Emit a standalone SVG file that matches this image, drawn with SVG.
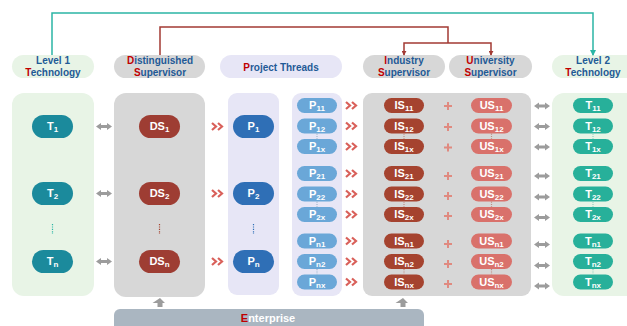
<svg xmlns="http://www.w3.org/2000/svg" width="627" height="326" viewBox="0 0 627 326">
<defs>
<style>
text{font-family:"Liberation Sans",Arial,sans-serif;font-weight:bold}
.hd{font-size:10px;fill:#1f5a96;text-anchor:middle}
.r{fill:#c00000}
.nt{font-size:11px;fill:#fff;text-anchor:middle}
.s{font-size:8px}
.t1{fill:#1b8a9c}.ds{fill:#9e3d33}.p{fill:#2f6fb6}.pp{fill:#6aa7d8}.is{fill:#a5432f}.us{fill:#d9716b}.t2{fill:#27b09a}
.pg{fill:#e8f4e6}.pgy{fill:#d7d7d7}.pl{fill:#e7e6f6}
.dot{stroke-dasharray:1.2 1.2;stroke-width:1.2;fill:none}
.chev{fill:none;stroke:#d9605a;stroke-width:2.2}
.plus{stroke:#e08a80;stroke-width:2;fill:none}
</style>
<marker id="at" viewBox="0 0 6 6" refX="3" refY="5" markerWidth="6" markerHeight="6" markerUnits="userSpaceOnUse"><path d="M0,0 L6,0 L3,6 Z" fill="#2bb5a5"/></marker>
<marker id="ar" viewBox="0 0 6 6" refX="3" refY="5" markerWidth="5" markerHeight="5" markerUnits="userSpaceOnUse"><path d="M0,0 L6,0 L3,6 Z" fill="#a33a33"/></marker>
<g id="dbl"><path d="M0,0 l5,-3.5 v2 h6 v-2 l5,3.5 l-5,3.5 v-2 h-6 v2 z" fill="#9c9c9c"/></g>
<g id="chv"><path class="chev" d="M0,-3.5 l4,3.5 l-4,3.5 M6,-3.5 l4,3.5 l-4,3.5"/></g>
<g id="pls"><path class="plus" d="M-4,0 h8 M0,-4 v8"/></g>
<g id="up"><path d="M0,-5 l5,5 h-2.5 v4 h-5 v-4 h-5 z" fill="#9c9c9c"/></g>
</defs>
<rect width="627" height="326" fill="#fff"/>

<!-- headers -->
<g id="h-l1"><rect x="12" y="55" width="82" height="23" rx="11.5" class="pg"/><text class="hd" x="53" y="64">Level 1</text><text class="hd" x="53" y="76"><tspan class="r">T</tspan>echnology</text></g>
<g id="h-ds"><rect x="114" y="55" width="91" height="23" rx="11.5" class="pgy"/><text class="hd" x="160" y="64"><tspan class="r">D</tspan>istinguished</text><text class="hd" x="160" y="76"><tspan class="r">S</tspan>upervisor</text></g>
<g id="h-pt"><rect x="220" y="55" width="122" height="23" rx="11.5" class="pl"/><text class="hd" x="281" y="70.5"><tspan class="r">P</tspan>roject Threads</text></g>
<g id="h-is"><rect x="363" y="55" width="82" height="23" rx="11.5" class="pgy"/><text class="hd" x="404" y="64"><tspan class="r">I</tspan>ndustry</text><text class="hd" x="404" y="76"><tspan class="r">S</tspan>upervisor</text></g>
<g id="h-us"><rect x="449" y="55" width="83" height="23" rx="11.5" class="pgy"/><text class="hd" x="490.5" y="64"><tspan class="r">U</tspan>niversity</text><text class="hd" x="490.5" y="76"><tspan class="r">S</tspan>upervisor</text></g>
<g id="h-l2"><rect x="552" y="55" width="90" height="23" rx="11.5" class="pg"/><text class="hd" x="593" y="64">Level 2</text><text class="hd" x="593" y="76"><tspan class="r">T</tspan>echnology</text></g>

<!-- connectors -->
<g id="connectors">
<path d="M52,55 V13 H593 V55" fill="none" stroke="#2bb5a5" stroke-width="1.5" marker-end="url(#at)"/>
<path d="M160,55 V27 H448 V43" fill="none" stroke="#a33a33" stroke-width="1.5"/>
<path d="M404,55 V43 H491 V55" fill="none" stroke="#a33a33" stroke-width="1.5" marker-start="url(#ar)" marker-end="url(#ar)"/>
</g>

<!-- panels -->
<rect x="12" y="93" width="82" height="203" rx="12" class="pg"/>
<rect x="114" y="93" width="91" height="204" rx="12" class="pgy"/>
<rect x="228" y="93" width="51" height="202" rx="9" class="pl"/>
<rect x="292" y="93" width="50" height="203" rx="9" class="pl"/>
<rect x="363" y="93" width="168" height="203" rx="9" class="pgy"/>
<rect x="552" y="93" width="90" height="203" rx="12" class="pg"/>
<g id="enterprise"><rect x="114" y="309" width="310" height="30" rx="6" fill="#aab6c1"/><text x="268" y="322" font-size="11" fill="#fff" text-anchor="middle"><tspan class="r">E</tspan>nterprise</text></g>
<use href="#up" x="160" y="303"/>
<use href="#up" x="403" y="303"/>

<!-- level 1 nodes -->
<g id="T1"><rect x="32" y="115" width="41" height="23" rx="11.5" class="t1"/><text class="nt" x="52.5" y="130">T<tspan class="s" dy="2">1</tspan></text></g>
<g id="T2"><rect x="32" y="182" width="41" height="23" rx="11.5" class="t1"/><text class="nt" x="52.5" y="197">T<tspan class="s" dy="2">2</tspan></text></g>
<g id="Tn"><rect x="32" y="250" width="41" height="23" rx="11.5" class="t1"/><text class="nt" x="52.5" y="265">T<tspan class="s" dy="2">n</tspan></text></g>
<g id="DS1"><rect x="139" y="115" width="41" height="23" rx="11.5" class="ds"/><text class="nt" x="159.5" y="130">DS<tspan class="s" dy="2">1</tspan></text></g>
<g id="DS2"><rect x="139" y="182" width="41" height="23" rx="11.5" class="ds"/><text class="nt" x="159.5" y="197">DS<tspan class="s" dy="2">2</tspan></text></g>
<g id="DSn"><rect x="139" y="250" width="41" height="23" rx="11.5" class="ds"/><text class="nt" x="159.5" y="265">DS<tspan class="s" dy="2">n</tspan></text></g>
<g id="P1"><rect x="233" y="115" width="41" height="23" rx="11.5" class="p"/><text class="nt" x="253.5" y="130">P<tspan class="s" dy="2">1</tspan></text></g>
<g id="P2"><rect x="233" y="182" width="41" height="23" rx="11.5" class="p"/><text class="nt" x="253.5" y="197">P<tspan class="s" dy="2">2</tspan></text></g>
<g id="Pn"><rect x="233" y="250" width="41" height="23" rx="11.5" class="p"/><text class="nt" x="253.5" y="265">P<tspan class="s" dy="2">n</tspan></text></g>
<line class="dot" x1="52.5" y1="224" x2="52.5" y2="234" stroke="#2bb5a5"/>
<line class="dot" x1="159.5" y1="224" x2="159.5" y2="234" stroke="#a5432f"/>
<line class="dot" x1="253.5" y1="224" x2="253.5" y2="234" stroke="#2f6fb6"/>
<use href="#dbl" x="96" y="126.5"/><use href="#dbl" x="96" y="193.5"/><use href="#dbl" x="96" y="261.5"/>
<use href="#chv" x="212" y="126.5"/><use href="#chv" x="212" y="193.5"/><use href="#chv" x="212" y="261.5"/>

<!-- level 2 rows -->
<g id="P11"><rect x="297" y="98" width="40" height="15" rx="7.5" class="pp"/><text class="nt" x="317" y="109">P<tspan class="s" dy="2">11</tspan></text></g>
<g id="P12"><rect x="297" y="118.5" width="40" height="15" rx="7.5" class="pp"/><text class="nt" x="317" y="129.5">P<tspan class="s" dy="2">12</tspan></text></g>
<g id="P1x"><rect x="297" y="139" width="40" height="15" rx="7.5" class="pp"/><text class="nt" x="317" y="150">P<tspan class="s" dy="2">1x</tspan></text></g>
<g id="P21"><rect x="297" y="166" width="40" height="15" rx="7.5" class="pp"/><text class="nt" x="317" y="177">P<tspan class="s" dy="2">21</tspan></text></g>
<g id="P22"><rect x="297" y="186.5" width="40" height="15" rx="7.5" class="pp"/><text class="nt" x="317" y="197.5">P<tspan class="s" dy="2">22</tspan></text></g>
<g id="P2x"><rect x="297" y="207" width="40" height="15" rx="7.5" class="pp"/><text class="nt" x="317" y="218">P<tspan class="s" dy="2">2x</tspan></text></g>
<g id="Pn1"><rect x="297" y="233.5" width="40" height="15" rx="7.5" class="pp"/><text class="nt" x="317" y="244.5">P<tspan class="s" dy="2">n1</tspan></text></g>
<g id="Pn2"><rect x="297" y="254" width="40" height="15" rx="7.5" class="pp"/><text class="nt" x="317" y="265">P<tspan class="s" dy="2">n2</tspan></text></g>
<g id="Pnx"><rect x="297" y="274.5" width="40" height="15" rx="7.5" class="pp"/><text class="nt" x="317" y="285.5">P<tspan class="s" dy="2">nx</tspan></text></g>

<g id="IS11"><rect x="384" y="98" width="40" height="15" rx="7.5" class="is"/><text class="nt" x="404" y="109">IS<tspan class="s" dy="2">11</tspan></text></g>
<g id="IS12"><rect x="384" y="118.5" width="40" height="15" rx="7.5" class="is"/><text class="nt" x="404" y="129.5">IS<tspan class="s" dy="2">12</tspan></text></g>
<g id="IS1x"><rect x="384" y="139" width="40" height="15" rx="7.5" class="is"/><text class="nt" x="404" y="150">IS<tspan class="s" dy="2">1x</tspan></text></g>
<g id="IS21"><rect x="384" y="166" width="40" height="15" rx="7.5" class="is"/><text class="nt" x="404" y="177">IS<tspan class="s" dy="2">21</tspan></text></g>
<g id="IS22"><rect x="384" y="186.5" width="40" height="15" rx="7.5" class="is"/><text class="nt" x="404" y="197.5">IS<tspan class="s" dy="2">22</tspan></text></g>
<g id="IS2x"><rect x="384" y="207" width="40" height="15" rx="7.5" class="is"/><text class="nt" x="404" y="218">IS<tspan class="s" dy="2">2x</tspan></text></g>
<g id="ISn1"><rect x="384" y="233.5" width="40" height="15" rx="7.5" class="is"/><text class="nt" x="404" y="244.5">IS<tspan class="s" dy="2">n1</tspan></text></g>
<g id="ISn2"><rect x="384" y="254" width="40" height="15" rx="7.5" class="is"/><text class="nt" x="404" y="265">IS<tspan class="s" dy="2">n2</tspan></text></g>
<g id="ISnx"><rect x="384" y="274.5" width="40" height="15" rx="7.5" class="is"/><text class="nt" x="404" y="285.5">IS<tspan class="s" dy="2">nx</tspan></text></g>

<g id="US11"><rect x="471" y="98" width="41" height="15" rx="7.5" class="us"/><text class="nt" x="491.5" y="109">US<tspan class="s" dy="2">11</tspan></text></g>
<g id="US12"><rect x="471" y="118.5" width="41" height="15" rx="7.5" class="us"/><text class="nt" x="491.5" y="129.5">US<tspan class="s" dy="2">12</tspan></text></g>
<g id="US1x"><rect x="471" y="139" width="41" height="15" rx="7.5" class="us"/><text class="nt" x="491.5" y="150">US<tspan class="s" dy="2">1x</tspan></text></g>
<g id="US21"><rect x="471" y="166" width="41" height="15" rx="7.5" class="us"/><text class="nt" x="491.5" y="177">US<tspan class="s" dy="2">21</tspan></text></g>
<g id="US22"><rect x="471" y="186.5" width="41" height="15" rx="7.5" class="us"/><text class="nt" x="491.5" y="197.5">US<tspan class="s" dy="2">22</tspan></text></g>
<g id="US2x"><rect x="471" y="207" width="41" height="15" rx="7.5" class="us"/><text class="nt" x="491.5" y="218">US<tspan class="s" dy="2">2x</tspan></text></g>
<g id="USn1"><rect x="471" y="233.5" width="41" height="15" rx="7.5" class="us"/><text class="nt" x="491.5" y="244.5">US<tspan class="s" dy="2">n1</tspan></text></g>
<g id="USn2"><rect x="471" y="254" width="41" height="15" rx="7.5" class="us"/><text class="nt" x="491.5" y="265">US<tspan class="s" dy="2">n2</tspan></text></g>
<g id="USnx"><rect x="471" y="274.5" width="41" height="15" rx="7.5" class="us"/><text class="nt" x="491.5" y="285.5">US<tspan class="s" dy="2">nx</tspan></text></g>

<g id="T11"><rect x="573" y="98" width="40" height="15" rx="7.5" class="t2"/><text class="nt" x="593" y="109">T<tspan class="s" dy="2">11</tspan></text></g>
<g id="T12"><rect x="573" y="118.5" width="40" height="15" rx="7.5" class="t2"/><text class="nt" x="593" y="129.5">T<tspan class="s" dy="2">12</tspan></text></g>
<g id="T1x"><rect x="573" y="139" width="40" height="15" rx="7.5" class="t2"/><text class="nt" x="593" y="150">T<tspan class="s" dy="2">1x</tspan></text></g>
<g id="T21"><rect x="573" y="166" width="40" height="15" rx="7.5" class="t2"/><text class="nt" x="593" y="177">T<tspan class="s" dy="2">21</tspan></text></g>
<g id="T22"><rect x="573" y="186.5" width="40" height="15" rx="7.5" class="t2"/><text class="nt" x="593" y="197.5">T<tspan class="s" dy="2">22</tspan></text></g>
<g id="T2x"><rect x="573" y="207" width="40" height="15" rx="7.5" class="t2"/><text class="nt" x="593" y="218">T<tspan class="s" dy="2">2x</tspan></text></g>
<g id="Tn1"><rect x="573" y="233.5" width="40" height="15" rx="7.5" class="t2"/><text class="nt" x="593" y="244.5">T<tspan class="s" dy="2">n1</tspan></text></g>
<g id="Tn2"><rect x="573" y="254" width="40" height="15" rx="7.5" class="t2"/><text class="nt" x="593" y="265">T<tspan class="s" dy="2">n2</tspan></text></g>
<g id="Tnx"><rect x="573" y="274.5" width="40" height="15" rx="7.5" class="t2"/><text class="nt" x="593" y="285.5">T<tspan class="s" dy="2">nx</tspan></text></g>

<!-- dotted links 12-1x -->
<g stroke="#9fb8cc">
<line class="dot" x1="317" y1="133.5" x2="317" y2="139"/><line class="dot" x1="317" y1="201.5" x2="317" y2="207"/><line class="dot" x1="317" y1="269" x2="317" y2="274.5"/>
</g>
<g stroke="#c08a80">
<line class="dot" x1="404" y1="133.5" x2="404" y2="139"/><line class="dot" x1="404" y1="201.5" x2="404" y2="207"/><line class="dot" x1="404" y1="269" x2="404" y2="274.5"/>
<line class="dot" x1="491.5" y1="133.5" x2="491.5" y2="139"/><line class="dot" x1="491.5" y1="201.5" x2="491.5" y2="207"/><line class="dot" x1="491.5" y1="269" x2="491.5" y2="274.5"/>
</g>
<g stroke="#8fcfc0">
<line class="dot" x1="593" y1="133.5" x2="593" y2="139"/><line class="dot" x1="593" y1="201.5" x2="593" y2="207"/><line class="dot" x1="593" y1="269" x2="593" y2="274.5"/>
</g>

<!-- chevrons, plus, double arrows for level 2 rows -->
<use href="#chv" x="346" y="105.5"/><use href="#chv" x="346" y="126"/><use href="#chv" x="346" y="146.5"/>
<use href="#chv" x="346" y="173.5"/><use href="#chv" x="346" y="194"/><use href="#chv" x="346" y="214.5"/>
<use href="#chv" x="346" y="241"/><use href="#chv" x="346" y="261.5"/><use href="#chv" x="346" y="282"/>
<use href="#pls" x="448" y="106"/><use href="#pls" x="448" y="127"/><use href="#pls" x="448" y="147.5"/>
<use href="#pls" x="448" y="176"/><use href="#pls" x="448" y="196"/><use href="#pls" x="448" y="216"/>
<use href="#pls" x="448" y="244"/><use href="#pls" x="448" y="264"/><use href="#pls" x="448" y="284"/>
<use href="#dbl" x="534" y="106"/><use href="#dbl" x="534" y="126.5"/><use href="#dbl" x="534" y="147"/>
<use href="#dbl" x="534" y="176"/><use href="#dbl" x="534" y="197"/><use href="#dbl" x="534" y="217.5"/>
<use href="#dbl" x="534" y="244.5"/><use href="#dbl" x="534" y="265.5"/><use href="#dbl" x="534" y="286"/>
</svg>
